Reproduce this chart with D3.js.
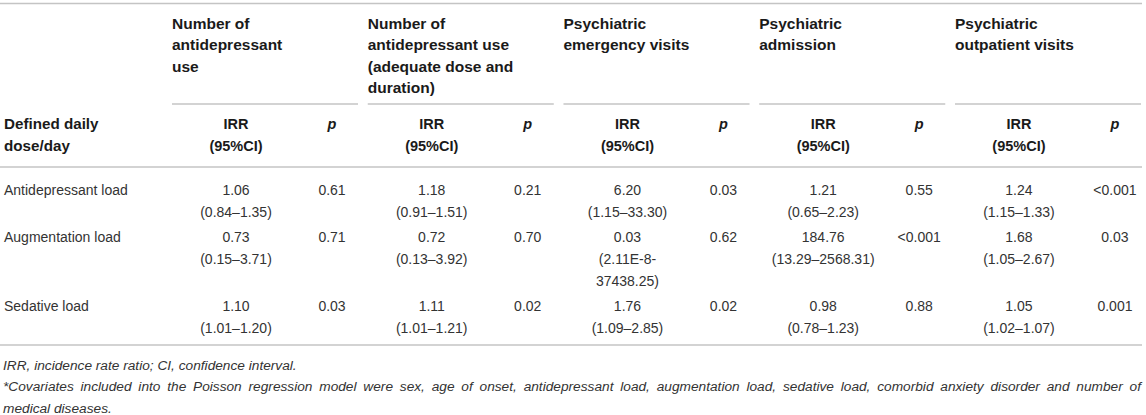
<!DOCTYPE html>
<html>
<head>
<meta charset="utf-8">
<script src="https://cdn.jsdelivr.net/npm/d3@7"></script>
<style>
  body { margin: 0; background: #fff; }
  svg { display: block; font-family: "Liberation Sans", Arial, Helvetica, sans-serif; }
</style>
</head>
<body>
<div id="chart"></div>
<script>
// outcome column headers (one entry per wrapped line)
const outcomes = [
  ["Number of", "antidepressant", "use"],
  ["Number of", "antidepressant use", "(adequate dose and", "duration)"],
  ["Psychiatric", "emergency visits"],
  ["Psychiatric", "admission"],
  ["Psychiatric", "outpatient visits"]
];
const rowHeader = ["Defined daily", "dose/day"];
const loads = ["Antidepressant load", "Augmentation load", "Sedative load"];

const irr = [
  ["1.06", "1.18", "6.20", "1.21", "1.24"],
  ["0.73", "0.72", "0.03", "184.76", "1.68"],
  ["1.10", "1.11", "1.76", "0.98", "1.05"]
];
const ci = [
  [["(0.84–1.35)"], ["(0.91–1.51)"], ["(1.15–33.30)"], ["(0.65–2.23)"], ["(1.15–1.33)"]],
  [["(0.15–3.71)"], ["(0.13–3.92)"], ["(2.11E-8-", "37438.25)"], ["(13.29–2568.31)"], ["(1.05–2.67)"]],
  [["(1.01–1.20)"], ["(1.01–1.21)"], ["(1.09–2.85)"], ["(0.78–1.23)"], ["(1.02–1.07)"]]
];
const pvals = [
  ["0.61", "0.21", "0.03", "0.55", "<0.001"],
  ["0.71", "0.70", "0.62", "<0.001", "0.03"],
  ["0.03", "0.02", "0.02", "0.88", "0.001"]
];
const footnotes = [
  "IRR, incidence rate ratio; CI, confidence interval.",
  "*Covariates included into the Poisson regression model were sex, age of onset, antidepressant load, augmentation load, sedative load, comorbid anxiety disorder and number of",
  "medical diseases."
];

const width = 1146, height = 415;
const ruleColor = "#c4c4c4";
const ink = "#1a1a1a", bodyInk = "#333";

const svg = d3.select("#chart").append("svg")
  .attr("width", width)
  .attr("height", height);

// column groups
const x = d3.scaleBand()
  .domain(d3.range(outcomes.length))
  .range([172, 1141])
  .paddingInner(0.0496)
  .paddingOuter(0);
const sub = d3.scaleOrdinal().domain(["irr", "p"]).range([64, 160]);
const lineH = 22;

// rules
svg.append("g").selectAll("line")
  .data([3.5, 167, 345])
  .join("line")
  .attr("x1", 0).attr("x2", 1142)
  .attr("y1", d => d).attr("y2", d => d)
  .attr("stroke", ruleColor).attr("stroke-width", 1.6);

svg.append("g").selectAll("line")
  .data(outcomes)
  .join("line")
  .attr("x1", (d, i) => x(i))
  .attr("x2", (d, i) => x(i) + x.bandwidth())
  .attr("y1", 104).attr("y2", 104)
  .attr("stroke", ruleColor).attr("stroke-width", 1.6);

// group headers
const gh = svg.append("g").attr("font-weight", "bold").attr("font-size", 15.5).attr("fill", ink);
outcomes.forEach((lines, i) => {
  gh.selectAll(null)
    .data(lines)
    .join("text")
    .attr("x", x(i))
    .attr("y", (d, k) => 23.5 + k * 21.5)
    .attr("dy", "0.35em")
    .text(d => d);
});

// sub headers
const sh = svg.append("g").attr("font-weight", "bold").attr("font-size", 14.5).attr("fill", ink);
sh.selectAll(null).data(rowHeader).join("text")
  .attr("x", 4).attr("y", (d, k) => 124 + k * lineH).attr("dy", "0.35em")
  .attr("font-size", 15.2)
  .text(d => d);
outcomes.forEach((o, i) => {
  sh.selectAll(null).data(["IRR", "(95%CI)"]).join("text")
    .attr("x", x(i) + sub("irr"))
    .attr("y", (d, k) => 124 + k * lineH).attr("dy", "0.35em")
    .attr("text-anchor", "middle")
    .text(d => d);
  sh.append("text")
    .attr("x", x(i) + sub("p")).attr("y", 124).attr("dy", "0.35em")
    .attr("text-anchor", "middle").attr("font-style", "italic")
    .text("p");
});

// body rows
const body = svg.append("g").attr("font-size", 14).attr("fill", bodyInk);
let rowTop = 190;
loads.forEach((load, r) => {
  const nLines = 1 + d3.max(ci[r], c => c.length);
  body.append("text").attr("x", 4).attr("y", rowTop).attr("dy", "0.35em").text(load);
  outcomes.forEach((o, i) => {
    body.selectAll(null).data([irr[r][i]].concat(ci[r][i])).join("text")
      .attr("x", x(i) + sub("irr"))
      .attr("y", (d, k) => rowTop + k * lineH).attr("dy", "0.35em")
      .attr("text-anchor", "middle")
      .text(d => d);
    body.append("text")
      .attr("x", x(i) + sub("p")).attr("y", rowTop).attr("dy", "0.35em")
      .attr("text-anchor", "middle")
      .text(pvals[r][i]);
  });
  rowTop += nLines * lineH + 3;
});

// footnotes
const fn = svg.append("g").attr("font-size", 13.7).attr("font-style", "italic").attr("fill", bodyInk);
fn.selectAll("text").data(footnotes).join("text")
  .attr("x", 3)
  .attr("y", (d, k) => 365 + k * 21.5)
  .attr("dy", "0.35em")
  .text(d => d);
// justify the wrapped covariate line to the table width
const justified = fn.selectAll("text").filter((d, k) => k === 1);
const natural = justified.node().getComputedTextLength();
const gaps = footnotes[1].split(" ").length - 1;
justified.attr("word-spacing", Math.max(0, (1138 - natural) / gaps));
</script>
</body>
</html>
